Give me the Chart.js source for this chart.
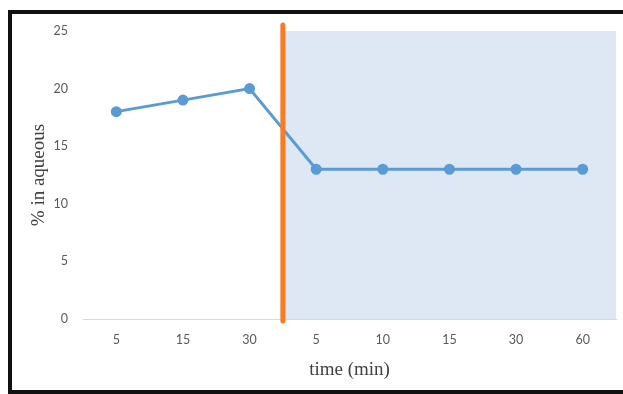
<!DOCTYPE html>
<html>
<head>
<meta charset="utf-8">
<script src="https://cdn.jsdelivr.net/npm/chart.js@4/dist/chart.umd.min.js"></script>
<style>
  html, body { margin: 0; padding: 0; background: #fff; }
  #wrap { position: relative; width: 623px; height: 394px; overflow: hidden; }
  #frame {
    position: absolute; left: 8px; top: 10px; width: 640px; height: 376px;
    border-left: 4px solid #111; border-top: 4px solid #111; border-bottom: 4px solid #111;
  }
  canvas { position: absolute; left: 0; top: 0; }
</style>
</head>
<body>
<div id="wrap">
  <div id="frame"></div>
  <canvas id="chart" width="623" height="394"></canvas>
</div>
<script>
// categories (time in min) - two phases separated by the orange marker
const timeLabels = ['5', '15', '30', '5', '10', '15', '30', '60'];
const aqueousPct = [18, 19, 20, 13, 13, 13, 13, 13];
const yTicks = [0, 5, 10, 15, 20, 25];
const splitAt = 2.5; // marker between the 3rd and 4th category

const phasePlugin = {
    id: 'phase',
    beforeDatasetsDraw(chart) {
        const { ctx, chartArea, scales } = chart;
        const x0 = scales.x.getPixelForValue(splitAt);
        const yTop = scales.y.getPixelForValue(25);
        const yBot = scales.y.getPixelForValue(0);
        ctx.save();
        ctx.fillStyle = '#DEE8F4';
        ctx.fillRect(x0, yTop, chartArea.right - x0, yBot - yTop);
        ctx.restore();
    },
    afterDatasetsDraw(chart) {
        const { ctx, scales } = chart;
        const x0 = scales.x.getPixelForValue(splitAt);
        ctx.save();
        ctx.strokeStyle = '#F97B22';
        ctx.lineWidth = 5;
        ctx.lineCap = 'round';
        ctx.beginPath();
        ctx.moveTo(x0, scales.y.getPixelForValue(25) - 6);
        ctx.lineTo(x0, scales.y.getPixelForValue(0) + 2);
        ctx.stroke();
        ctx.restore();
    }
};

const tickFont = { family: 'Lato', size: 12.5 };
const titleFont = { family: 'Liberation Serif', size: 19 };

new Chart(document.getElementById('chart').getContext('2d'), {
    type: 'line',
    data: {
        labels: timeLabels,
        datasets: [{
            data: aqueousPct,
            borderColor: '#5B9BD5',
            backgroundColor: '#5B9BD5',
            borderWidth: 3,
            pointRadius: 4,
            pointHoverRadius: 4,
            tension: 0
        }]
    },
    options: {
        responsive: false,
        animation: false,
        layout: { padding: { left: 12, top: 31, right: 6, bottom: 0 } },
        plugins: {
            legend: { display: false },
            tooltip: { enabled: false }
        },
        scales: {
            x: {
                offset: true,
                grid: { display: false, drawTicks: false },
                border: { display: true, color: '#D9D9D9', width: 1 },
                ticks: { color: '#595959', font: tickFont, padding: 13, maxRotation: 0 },
                title: {
                    display: true, text: 'time (min)', color: '#404040',
                    font: titleFont, padding: { top: 0, bottom: 13 }
                },
                afterFit(scale) { scale.height = 75; }
            },
            y: {
                min: 0,
                max: 25,
                afterBuildTicks(scale) { scale.ticks = yTicks.map(v => ({ value: v })); },
                grid: { display: false, drawTicks: false },
                border: { display: false },
                ticks: { color: '#595959', font: tickFont, padding: 15 },
                title: {
                    display: true, text: '% in aqueous', color: '#404040',
                    font: titleFont, padding: { top: 16, bottom: 0 }
                },
                afterFit(scale) { scale.width = 71; }
            }
        }
    },
    plugins: [phasePlugin]
});
</script>
</body>
</html>
